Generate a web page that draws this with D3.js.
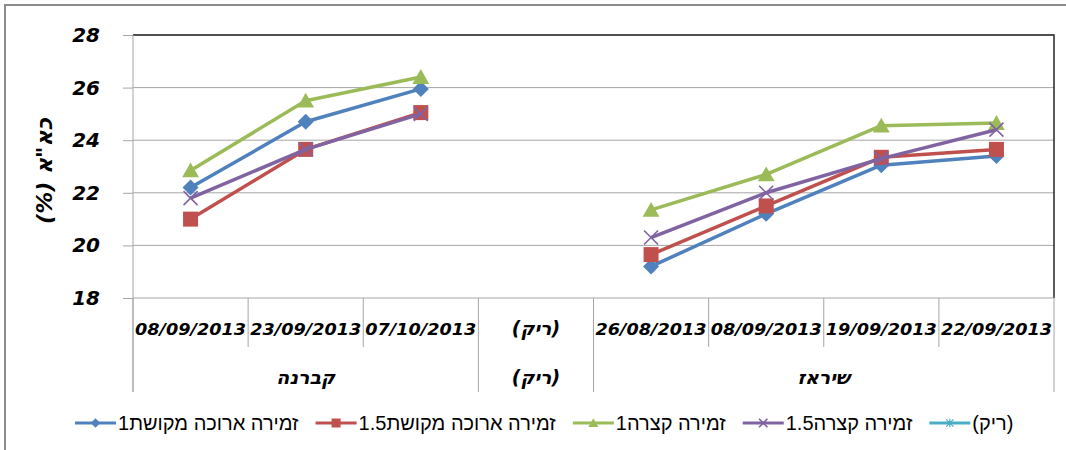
<!DOCTYPE html>
<html><head><meta charset="utf-8">
<script src="https://cdn.jsdelivr.net/npm/d3@7/dist/d3.min.js"></script>
<style>body{margin:0;background:#fff;overflow:hidden}</style>
</head><body>
<svg id="c" width="1066" height="450"></svg>
<script>
// ---- data ----
const categories = ["08/09/2013","23/09/2013","07/10/2013","(ריק)","26/08/2013","08/09/2013","19/09/2013","22/09/2013"];
const groupNames = ["קברנה","(ריק)","שיראז"];
const groupSizes = [3, 1, 4];
const seriesNames = ["זמירה ארוכה מקושת1","זמירה ארוכה מקושת1.5","זמירה קצרה1","זמירה קצרה1.5","(ריק)"];
const longBow1  = [22.2, 24.7, 25.95, null, 19.2, 21.2, 23.05, 23.4];
const longBow15 = [21.0, 23.65, 25.05, null, 19.65, 21.5, 23.35, 23.65];
const short1    = [22.85, 25.5, 26.4, null, 21.35, 22.7, 24.55, 24.65];
const short15   = [21.8, 23.65, 25.0, null, 20.3, 22.0, 23.3, 24.4];
const emptySer  = [null, null, null, null, null, null, null, null];
const yTicks = [18, 20, 22, 24, 26, 28];
const yTitle = "כא\"א (%)";

// ---- styles ----
const colors = ["#4F81BD","#C0504D","#9BBB59","#8064A2","#4BACC6"];
const markers = ["diamond","square","triangle","x","star"];
const seriesValues = [longBow1, longBow15, short1, short15, emptySer];

const svg = d3.select("#c");
const L = 133, R = 1054, T = 35, B = 298;
const idx = categories.map((d,i)=>i);
const x = d3.scaleBand().domain(idx).range([L, R]).padding(0);
const y = d3.scaleLinear().domain([18, 28]).range([B, T]);
const grid = "#a6a6a6";

// outer chart border
svg.append("rect").attr("x",5).attr("y",5).attr("width",1080).attr("height",460)
  .attr("fill","none").attr("stroke","#8c8c8c").attr("stroke-width",2);

// gridlines
svg.append("g").selectAll("line").data(yTicks.slice(1)).join("line")
  .attr("x1",L).attr("x2",R).attr("y1",d=>y(d)).attr("y2",d=>y(d))
  .attr("stroke",grid).attr("stroke-width",1);

// plot border (dark top/right)
svg.append("path").attr("d",`M${L},${T}H${R}V${B}`).attr("fill","none")
  .attr("stroke","#262626").attr("stroke-width",1.5);

// y axis
const yAxis = d3.axisLeft(y).tickValues(yTicks).tickSize(10).tickPadding(23).tickFormat(d3.format("d"));
const ya = svg.append("g").attr("transform",`translate(${L},0)`).call(yAxis);
ya.select(".domain").remove();
ya.selectAll(".tick line").attr("stroke",grid);
ya.selectAll(".tick text").attr("font-family","DejaVu Sans").attr("font-weight","bold")
  .attr("font-style","italic").attr("font-size",20).attr("fill","#000");
svg.append("line").attr("x1",L).attr("x2",L).attr("y1",T).attr("y2",392).attr("stroke",grid);
svg.append("line").attr("x1",L).attr("x2",R).attr("y1",B).attr("y2",B).attr("stroke",grid);

// y title
svg.append("text").attr("transform","translate(52,171) rotate(-90)")
  .attr("text-anchor","middle").attr("direction","rtl")
  .attr("font-family","DejaVu Sans").attr("font-weight","bold").attr("font-style","italic")
  .attr("font-size",22).text(yTitle);

// x category separators
const groupStarts = groupSizes.map((s,i)=>d3.sum(groupSizes.slice(0,i)));
const groupBounds = new Set(groupStarts.concat([categories.length]));
const bounds = d3.range(categories.length+1);
svg.append("g").selectAll("line").data(bounds).join("line")
  .attr("x1",d=> d<categories.length ? x(d) : R).attr("x2",d=> d<categories.length ? x(d) : R)
  .attr("y1",B).attr("y2",d=> groupBounds.has(d) ? 392 : 347)
  .attr("stroke",grid).attr("stroke-width",1);

// category labels
svg.append("g").selectAll("text").data(idx).join("text")
  .attr("x",d=>x(d)+x.bandwidth()/2).attr("y",335)
  .attr("text-anchor","middle")
  .attr("font-family","DejaVu Sans").attr("font-weight","bold").attr("font-style","italic")
  .attr("font-size",16)
  .each(function(d){
    const t = d3.select(this);
    t.text(categories[d]);
    if (/^\d/.test(categories[d])) t.attr("textLength",111).attr("lengthAdjust","spacingAndGlyphs");
    else t.attr("direction","rtl").attr("font-size",19);
  });

// group labels
svg.append("g").selectAll("text").data(groupNames).join("text")
  .attr("x",(d,i)=> (x(groupStarts[i]) + x(groupStarts[i]+groupSizes[i]-1)+x.bandwidth())/2)
  .attr("y",384).attr("text-anchor","middle").attr("direction","rtl")
  .attr("font-family","DejaVu Sans").attr("font-weight","bold").attr("font-style","italic")
  .attr("font-size",19).text(d=>d);

// marker drawer
function drawMarker(g, type, color, s) {
  if (type === "diamond") {
    g.append("path").attr("d",`M0,${-s}L${s},0L0,${s}L${-s},0Z`).attr("fill",color);
  } else if (type === "square") {
    g.append("rect").attr("x",-s).attr("y",-s).attr("width",2*s).attr("height",2*s).attr("fill",color);
  } else if (type === "triangle") {
    g.append("path").attr("d",`M0,${-s}L${s*1.05},${s*0.85}L${-s*1.05},${s*0.85}Z`).attr("fill",color);
  } else if (type === "x") {
    g.append("path").attr("d",`M${-s},${-s}L${s},${s}M${-s},${s}L${s},${-s}`)
      .attr("stroke",color).attr("stroke-width",1.6).attr("fill","none");
  } else if (type === "star") {
    g.append("path").attr("d",`M${-s},${-s}L${s},${s}M${-s},${s}L${s},${-s}M0,${-s*1.2}V${s*1.2}`)
      .attr("stroke",color).attr("stroke-width",1.2).attr("fill","none");
  }
}
const markerSize = {diamond:8, square:7.5, triangle:8, x:7, star:6};

// series
const line = d3.line().defined(d=>d.v!=null).x(d=>x(d.i)+x.bandwidth()/2).y(d=>y(d.v));
seriesValues.forEach((vals, si) => {
  const pts = vals.map((v,i)=>({i, v}));
  svg.append("path").datum(pts).attr("d",line).attr("fill","none")
    .attr("stroke",colors[si]).attr("stroke-width",3.5).attr("stroke-linejoin","round");
  pts.filter(p=>p.v!=null).forEach(p => {
    const g = svg.append("g").attr("transform",`translate(${x(p.i)+x.bandwidth()/2},${y(p.v)})`);
    drawMarker(g, markers[si], colors[si], markerSize[markers[si]]);
  });
});

// legend
const leg = svg.append("g");
let cx = 75;
seriesNames.forEach((name, si) => {
  const g = leg.append("g");
  g.append("line").attr("x1",cx).attr("x2",cx+41).attr("y1",423).attr("y2",423)
    .attr("stroke",colors[si]).attr("stroke-width",3);
  const m = g.append("g").attr("transform",`translate(${cx+20.5},423)`);
  drawMarker(m, markers[si], colors[si], markerSize[markers[si]]*0.6);
  const t = g.append("text").attr("x",cx+43).attr("y",430)
    .attr("direction","rtl").attr("text-anchor","end")
    .attr("font-family","Liberation Sans").attr("font-size",20).attr("fill","#000").text(name);
  const w = t.node().getComputedTextLength();
  cx = cx + 43 + w + 17;
});
</script>
</body></html>
